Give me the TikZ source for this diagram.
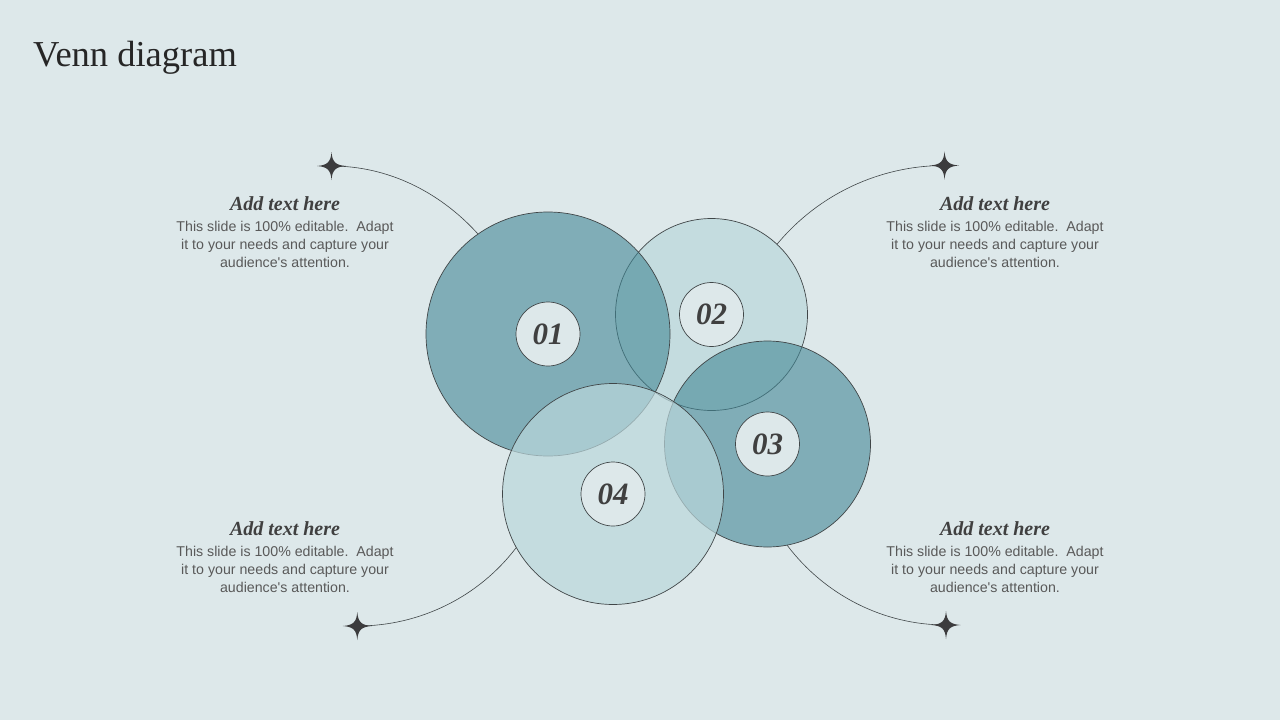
\documentclass[tikz,border=0pt]{standalone}
\usepackage{fontspec}
\setmainfont{Liberation Serif}
\newfontfamily\bodyfont{Liberation Sans}
\definecolor{bgc}{RGB}{221,232,234}
\definecolor{darkc}{RGB}{66,135,149}
\definecolor{lightc}{RGB}{186,215,219}
\definecolor{linec}{RGB}{64,70,72}
\definecolor{starc}{RGB}{60,60,62}
\definecolor{headc}{RGB}{64,64,64}
\definecolor{bodyc}{RGB}{89,89,89}
\definecolor{titlec}{RGB}{38,38,38}
\tikzset{
  bigdark/.style={circle, draw=linec, line width=0.7pt, fill=darkc, fill opacity=0.6, draw opacity=1, inner sep=0pt},
  biglight/.style={circle, draw=linec, line width=0.7pt, fill=lightc, fill opacity=0.7, draw opacity=1, inner sep=0pt},
  numbox/.style={circle, draw=linec, line width=0.7pt, fill=bgc, minimum size=64pt, inner sep=0pt, text=headc, font=\fontsize{31}{31}\selectfont\bfseries\itshape},
  conn/.style={draw=linec, line width=0.6pt},
  headtext/.style={anchor=base, inner sep=0pt, text=headc, font=\fontsize{20}{20}\selectfont\bfseries\itshape},
  bodytext/.style={anchor=base, inner sep=0pt, align=center, text=bodyc, font=\bodyfont\fontsize{14.2}{17.7}\selectfont},
  sparkle/.pic={\fill[starc] (14.5,0) .. controls (4,0.8) and (0.8,4) .. (0,14) .. controls (-0.8,4) and (-4,0.8) .. (-14.5,0) .. controls (-4,-0.8) and (-0.8,-4) .. (0,-14) .. controls (0.8,-4) and (4,-0.8) .. (14.5,0) -- cycle;}
}
\begin{document}
\begin{tikzpicture}[x=1pt,y=-1pt]
\fill[bgc] (0,0) rectangle (1280,720);
\useasboundingbox (0,0) rectangle (1280,720);
% title
\node[anchor=base west, inner sep=0pt, text=titlec, font=\fontsize{36.5}{36.5}\selectfont] (title) at (33,66.7) {Venn diagram};
% star positions
\coordinate (s1) at (331.5,166);
\coordinate (s2) at (944.5,165.5);
\coordinate (s3) at (946,625);
\coordinate (s4) at (357.3,626);
% circle geometry (placeholders for anchors)
\path (548,334) node[circle, inner sep=0pt, minimum size=244pt] (c1) {};
\path (711.5,314.5) node[circle, inner sep=0pt, minimum size=192pt] (c2) {};
\path (767.5,444) node[circle, inner sep=0pt, minimum size=206pt] (c3) {};
\path (613,494) node[circle, inner sep=0pt, minimum size=221pt] (c4) {};
% connectors (circular arcs)
\draw[conn] (s1) .. controls (387,166) and (439,191) .. (c1.125.8);
\draw[conn] (s2) .. controls (879.7,165.5) and (818.3,194.4) .. (c2.47);
\draw[conn] (s4) .. controls (419.5,626) and (478.4,597.3) .. (c4.209.4);
\draw[conn] (s3) .. controls (883.6,625) and (825,595.3) .. (c3.281.5);
% big circles
\node[biglight, minimum size=192pt] (b2) at (c2) {};
\node[bigdark, minimum size=244pt] (b1) at (c1) {};
\node[bigdark, minimum size=206pt] (b3) at (c3) {};
\node[biglight, minimum size=221pt] (b4) at (c4) {};
% numbers
\node[numbox] (n1) at (c1) {01};
\node[numbox] (n2) at (c2) {02};
\node[numbox] (n3) at (c3) {03};
\node[numbox] (n4) at (c4) {04};
% stars
\pic at (s1) {sparkle};
\pic at (s2) {sparkle};
\pic at (s3) {sparkle};
\pic at (s4) {sparkle};
% texts
\node[headtext] (h1) at (285,210) {Add text here};
\node[bodytext] (t1) at (285,267.3) {This slide is 100\% editable.\ \ Adapt\\it to your needs and capture your\\audience's attention.};
\node[headtext] (h2) at (995,210) {Add text here};
\node[bodytext] (t2) at (995,267.3) {This slide is 100\% editable.\ \ Adapt\\it to your needs and capture your\\audience's attention.};
\node[headtext] (h4) at (285,535) {Add text here};
\node[bodytext] (t4) at (285,592.3) {This slide is 100\% editable.\ \ Adapt\\it to your needs and capture your\\audience's attention.};
\node[headtext] (h3) at (995,535) {Add text here};
\node[bodytext] (t3) at (995,592.3) {This slide is 100\% editable.\ \ Adapt\\it to your needs and capture your\\audience's attention.};
\end{tikzpicture}
\end{document}
